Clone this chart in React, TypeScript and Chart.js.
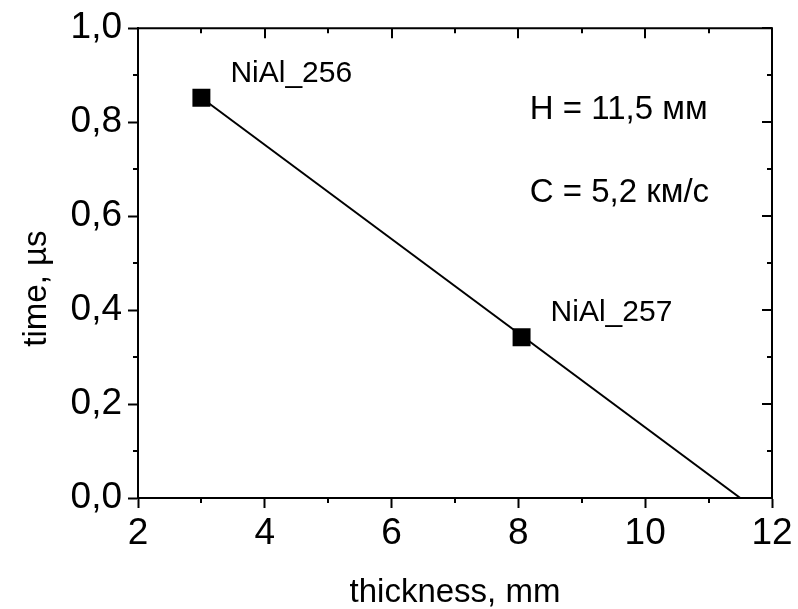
import React, { useEffect, useRef } from "react";
import { Chart, registerables } from "chart.js";

Chart.register(...registerables);

// ---- data ----
const pointX = [3.0, 8.05];
const pointY = [0.852, 0.342];
const pointLabels = ["NiAl_256", "NiAl_257"];
const fitX = [3.0, 11.5];
const fitY = [0.852, 0.0];
const noteTexts = ["H = 11,5 мм", "C = 5,2 км/с"];
const noteX = [8.18, 8.18];
const noteY = [0.807, 0.631];
const xTitle = "thickness, mm";
const yTitle = "time, µs";
const xMin = 2, xMax = 12, xStep = 2;
const yMin = 0, yMax = 1, yStep = 0.2;

const FONT = '"Liberation Sans", Arial, Helvetica, sans-serif';

const decorPlugin = {
  id: "decor",
  afterDatasetsDraw(chart: any) {
    const { ctx, chartArea: ca, scales } = chart;
    const x = scales.x, y = scales.y;
    ctx.save();
    ctx.strokeStyle = "#000";
    ctx.lineWidth = 2;
    // top & right frame
    ctx.beginPath();
    ctx.moveTo(ca.left - 1, ca.top);
    ctx.lineTo(ca.right, ca.top);
    ctx.lineTo(ca.right, ca.bottom + 1);
    ctx.stroke();

    const xt = x.ticks.map((t: any) => t.value);
    const yt = y.ticks.map((t: any) => t.value);
    const xMinor: number[] = [];
    for (let i = 0; i < xt.length - 1; i++) xMinor.push((xt[i] + xt[i + 1]) / 2);
    const yMinor: number[] = [];
    for (let i = 0; i < yt.length - 1; i++) yMinor.push((yt[i] + yt[i + 1]) / 2);

    ctx.beginPath();
    // x major top (inward)
    xt.forEach((v: number) => {
      const p = Math.round(x.getPixelForValue(v));
      ctx.moveTo(p, ca.top);
      ctx.lineTo(p, ca.top + 10);
    });
    xMinor.forEach((v: number) => {
      const p = Math.round(x.getPixelForValue(v));
      ctx.moveTo(p, ca.top);
      ctx.lineTo(p, ca.top + 5);
      ctx.moveTo(p, ca.bottom);
      ctx.lineTo(p, ca.bottom + 5);
    });
    yt.forEach((v: number) => {
      const p = Math.round(y.getPixelForValue(v));
      ctx.moveTo(ca.right, p);
      ctx.lineTo(ca.right - 10, p);
    });
    yMinor.forEach((v: number) => {
      const p = Math.round(y.getPixelForValue(v));
      ctx.moveTo(ca.right, p);
      ctx.lineTo(ca.right - 5, p);
      ctx.moveTo(ca.left, p);
      ctx.lineTo(ca.left - 5, p);
    });
    ctx.stroke();

    ctx.fillStyle = "#000";
    // point labels
    ctx.font = `30px ${FONT}`;
    ctx.textAlign = "left";
    ctx.textBaseline = "alphabetic";
    pointLabels.forEach((lab, i) => {
      const px = x.getPixelForValue(pointX[i]);
      const py = y.getPixelForValue(pointY[i]);
      ctx.fillText(lab, px + 29, py - 16);
    });
    // notes
    ctx.font = `33px ${FONT}`;
    noteTexts.forEach((t, i) => {
      ctx.fillText(t, x.getPixelForValue(noteX[i]), y.getPixelForValue(noteY[i]));
    });
    // x title
    ctx.textAlign = "center";
    ctx.fillText(xTitle, (ca.left + ca.right) / 2, ca.bottom + 104);
    // y title
    ctx.save();
    ctx.translate(ca.left - 92.5, (ca.top + ca.bottom) / 2 + 25.5);
    ctx.rotate(-Math.PI / 2);
    ctx.fillText(yTitle, 0, 0);
    ctx.restore();
    ctx.restore();
  },
};

export default function App() {
  const ref = useRef<HTMLCanvasElement | null>(null);
  useEffect(() => {
    if (!ref.current) return;
    const chart = new Chart(ref.current, {
      type: "scatter",
      data: {
        datasets: [
          {
            label: "points",
            data: pointX.map((v, i) => ({ x: v, y: pointY[i] })),
            pointStyle: "rect",
            pointRadius: 12.7,
            pointBackgroundColor: "#000",
            pointBorderColor: "#000",
            pointBorderWidth: 0,
            showLine: false,
          },
          {
            label: "fit",
            data: fitX.map((v, i) => ({ x: v, y: fitY[i] })),
            showLine: true,
            borderColor: "#000",
            borderWidth: 2,
            pointRadius: 0,
            fill: false,
          },
        ],
      },
      options: {
        responsive: false,
        animation: false,
        layout: { padding: { top: 26, right: 26, left: 0, bottom: 0 } },
        plugins: { legend: { display: false }, tooltip: { enabled: false } },
        scales: {
          x: {
            type: "linear",
            min: xMin,
            max: xMax,
            afterFit: (s: any) => { s.height = 111; },
            border: { display: true, color: "#000", width: 2 },
            grid: { drawOnChartArea: false, drawTicks: true, tickLength: 10, tickColor: "#000", tickWidth: 2 },
            ticks: {
              stepSize: xStep,
              color: "#000",
              padding: 4,
              maxRotation: 0,
              font: { family: FONT, size: 37 },
              callback: (v: any) => String(v),
            },
          },
          y: {
            type: "linear",
            min: yMin,
            max: yMax,
            afterFit: (s: any) => { s.width = 138; },
            border: { display: true, color: "#000", width: 2 },
            grid: { drawOnChartArea: false, drawTicks: true, tickLength: 10, tickColor: "#000", tickWidth: 2 },
            ticks: {
              stepSize: yStep,
              color: "#000",
              padding: 6,
              font: { family: FONT, size: 37 },
              callback: (v: any) => Number(v).toFixed(1).replace(".", ","),
            },
          },
        },
      },
      plugins: [decorPlugin],
    });
    return () => chart.destroy();
  }, []);
  return (
    <div style={{ position: "absolute", left: 0, top: 0, width: 798, height: 609, background: "#fff" }}>
      <canvas ref={ref} width={798} height={609} style={{ display: "block" }} />
    </div>
  );
}
